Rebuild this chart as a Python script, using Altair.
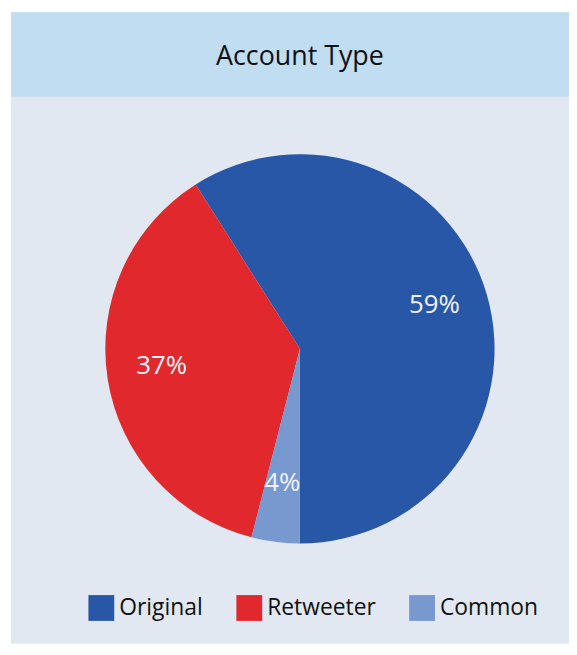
import altair as alt
import pandas as pd

categories = ["Original", "Retweeter", "Common"]
values = [59, 37, 4]
labels = ["59%", "37%", "4%"]
colors = ["#2957a7", "#e1282c", "#7799cf"]
title_text = "Account Type"

df = pd.DataFrame({
    "category": categories,
    "value": values,
    "label": labels,
    "idx": list(range(len(categories))),
})

W, H = 562, 636
FONT = "Open Sans"
CX, CY = 291, 339

base = alt.Chart(df)

color = alt.Color(
    "category:N",
    scale=alt.Scale(domain=categories, range=colors),
    legend=alt.Legend(
        title=None,
        orient="none",
        legendX=78,
        legendY=587,
        direction="horizontal",
        symbolType="square",
        symbolSize=676,
        symbolStrokeWidth=0,
        symbolOpacity=1,
        labelFontSize=23,
        labelFont=FONT,
        labelColor="#111111",
        labelOffset=5,
        columnPadding=33,
    ),
)

theta = alt.Theta("value:Q", stack=True, scale=alt.Scale(range=[3.141592653589793, 3 * 3.141592653589793]))
order = alt.Order("idx:Q", sort="descending")

band = alt.Chart(pd.DataFrame({"k": [0]})).mark_rect(color="#c1ddf1").encode(
    x=alt.value(0), x2=alt.value(W), y=alt.value(0), y2=alt.value(85)
)
title = alt.Chart(pd.DataFrame({"t": [title_text]})).mark_text(
    fontSize=27, font=FONT, color="#111111", baseline="middle"
).encode(text="t:N", x=alt.value(291), y=alt.value(45))

pie = base.mark_arc(radius=196).encode(
    theta=theta, color=color, order=order,
    x=alt.value(CX), y=alt.value(CY),
)
text = base.mark_text(radius=141, dy=-5, fontSize=26, font=FONT, color="#eef2fa", baseline="middle").encode(
    theta=theta, order=order, text="label:N",
    x=alt.value(CX), y=alt.value(CY),
)

chart = alt.layer(band, title, pie, text).properties(
    width=W, height=H,
    padding={"left": 3, "top": 2, "right": 0, "bottom": 0},
    autosize=alt.AutoSizeParams(type="none"),
    background="white",
).configure_view(fill="#e1e8f2", stroke=None)

chart.save("out.html", embed_options={"renderer": "svg", "actions": False})
